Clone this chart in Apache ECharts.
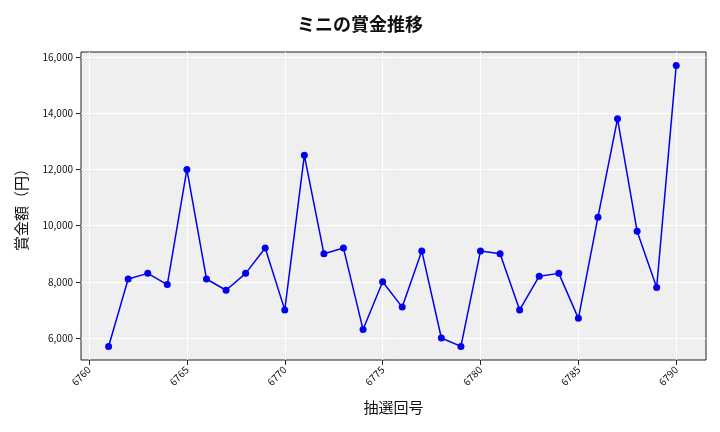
<!DOCTYPE html>
<html><head><meta charset="utf-8">
<script src="https://cdn.jsdelivr.net/npm/echarts@6/dist/echarts.min.js"></script>
<style>body{margin:0}#c{width:720px;height:432px}</style></head>
<body><div id="c"></div>
<script>
const draws = [6761,6762,6763,6764,6765,6766,6767,6768,6769,6770,6771,6772,6773,6774,6775,6776,6777,6778,6779,6780,6781,6782,6783,6784,6785,6786,6787,6788,6789,6790];
const prizes = [5700,8100,8300,7900,12000,8100,7700,8300,9200,7000,12500,9000,9200,6300,8000,7100,9100,6000,5700,9100,9000,7000,8200,8300,6700,10300,13800,9800,7800,15700];
const xTicks = [6760,6765,6770,6775,6780,6785,6790];
const yTicks = [6000,8000,10000,12000,14000,16000];
const F = '"Noto Sans CJK JP"';
const chart = echarts.init(document.getElementById('c'));
chart.setOption({
  title:{text:'ミニの賞金推移',left:'center',top:10,textStyle:{fontFamily:F,fontSize:18,fontWeight:'bold',color:'#111'}},
  grid:{left:81,right:14,top:52,bottom:72,show:true,backgroundColor:'#efefef',borderColor:'#222',borderWidth:1},
  xAxis:{type:'value',min:6759.59,max:6791.52,name:'抽選回号',nameLocation:'middle',nameGap:40,
    nameTextStyle:{fontFamily:F,fontSize:15,color:'#111'},
    axisLine:{show:false},axisTick:{show:true,customValues:xTicks,lineStyle:{color:'#222'}},
    axisLabel:{customValues:xTicks,rotate:45,fontSize:10,color:'#111',fontFamily:F,formatter:v=>String(v)},
    splitLine:{show:true,lineStyle:{color:'#fff',width:1}}},
  yAxis:{type:'value',min:5217,max:16178,name:'賞金額（円）',nameLocation:'middle',nameGap:52,
    nameTextStyle:{fontFamily:F,fontSize:15,color:'#111'},
    axisLine:{show:false},axisTick:{show:true,customValues:yTicks,lineStyle:{color:'#222'}},
    axisLabel:{customValues:yTicks,fontSize:10,color:'#111',fontFamily:F,formatter:v=>v.toLocaleString('en-US')},
    splitLine:{show:true,lineStyle:{color:'#fff',width:1}}},
  series:[{type:'line',data:draws.map((d,i)=>[d,prizes[i]]),symbol:'circle',symbolSize:7,
    lineStyle:{color:'#0000ee',width:1.5},itemStyle:{color:'#0000ee'},animation:false}]
});
</script></body></html>
